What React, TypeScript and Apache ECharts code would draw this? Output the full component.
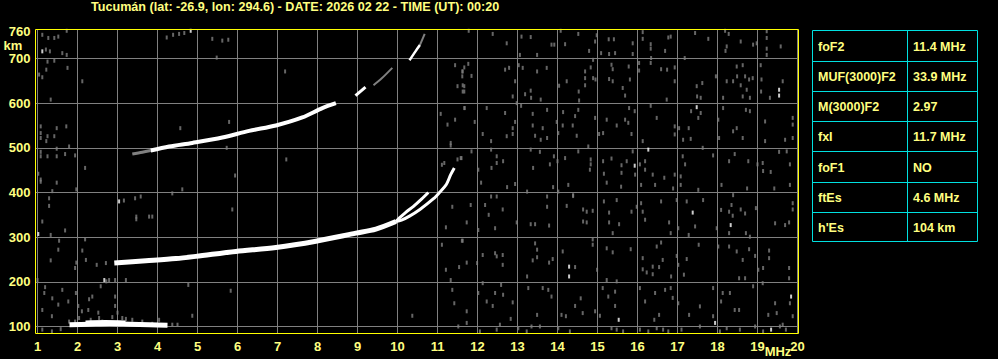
import React, { useEffect, useRef } from 'react';
import * as echarts from 'echarts';

const TITLE = 'Tucumán (lat: -26.9, lon: 294.6) - DATE: 2026 02 22 - TIME (UT): 00:20';
const xTicks = [1, 2, 3, 4, 5, 6, 7, 8, 9, 10, 11, 12, 13, 14, 15, 16, 17, 18, 19, 20];
const yTicks = [100, 200, 300, 400, 500, 600, 700];
const yLabels = [100, 200, 300, 400, 500, 600, 700, 760];
const paramNames = ['foF2', 'MUF(3000)F2', 'M(3000)F2', 'fxI', 'foF1', 'ftEs', "h'Es"];
const paramValues = ['11.4 MHz', '33.9 MHz', '2.97', '11.7 MHz', 'NO', '4.6 MHz', '104 km'];

// traces [MHz, km]
const esTrace = [[1.8, 104], [2.3, 105], [2.8, 106], [3.3, 105], [3.8, 104], [4.25, 103]];
const esUpper = [[2.2, 110], [2.7, 111], [3.2, 110]];
const f2Low = [[2.92, 242], [3.71, 247], [4.46, 252], [4.96, 257], [5.96, 268], [6.96, 277], [7.96, 291], [8.96, 309], [9.46, 318], [9.96, 335]];
const f2Ordinary = [[9.96, 335], [10.05, 343], [10.2, 355], [10.4, 369], [10.6, 385], [10.77, 400]];
const f2Extra = [[9.96, 335], [10.1, 338], [10.3, 347], [10.56, 362], [10.9, 386], [11.06, 401], [11.22, 418], [11.33, 440], [11.42, 455]];
const f2Multi = [[3.83, 494], [4.29, 503], [4.87, 511], [5.62, 523], [6.29, 538], [6.96, 550], [7.62, 568], [8.12, 589], [8.46, 600]];
const f2MultiB = [[8.95, 617], [9.2, 636]];
const f2MultiTop = [[10.3, 696], [10.45, 716], [10.56, 730]];
const f2MultiFaint = [[3.37, 486], [3.62, 490], [3.83, 494]];
const f2MultiFaintB = [[9.4, 640], [9.6, 655], [9.87, 679]];
const f2MultiFaintTop = [[10.56, 730], [10.68, 755]];

const whiteDots = [[19.54, 630], [19.54, 617], [17.48, 591], [16.27, 496], [15.93, 460], [17.38, 355], [18.33, 327], [14.29, 234], [14.29, 212], [15.53, 115], [17.94, 108], [19.84, 167], [19.34, 93], [4.83, 762], [1.12, 716], [3.04, 380], [1.02, 307], [2.67, 204]];

const noiseHighTop = [
  [11.78, 762], [12.38, 755], [12.73, 734], [13.1, 749], [13.33, 748], [13.06, 708], [13.49, 708], [13.85, 731], [13.92, 731], [14.19, 732], [14.08, 762], [14.52, 755], [14.98, 752], [14.94, 738], [14.79, 717], [15.09, 712], [15.29, 710], [15.44, 712], [15.41, 743], [15.28, 743], [15.88, 734], [15.88, 710], [16.13, 759], [16.13, 744], [16.33, 732], [16.33, 722], [16.69, 717], [16.77, 747], [16.83, 749], [16.34, 701], [17.18, 701], [17.44, 757], [17.77, 744], [18.19, 762], [18.28, 755], [18.23, 727], [18.2, 717], [18.58, 738], [18.89, 731], [18.98, 734], [19.23, 761], [19.23, 746], [19.23, 722], [19.58, 727], [19.23, 708],
  [11.67, 680], [11.63, 671], [11.77, 688], [11.85, 661], [11.63, 626], [11.63, 640], [12.69, 675], [12.79, 679], [13.03, 685], [13.13, 679], [13.49, 671], [13.73, 679], [12.94, 649], [12.88, 615], [12.98, 600], [13.19, 620], [13.33, 628], [13.34, 612], [13.58, 608], [14.04, 639], [14.23, 649], [14.53, 626], [14.54, 606], [14.69, 671], [14.69, 656], [14.69, 640], [14.83, 680], [14.89, 656], [14.95, 653], [14.89, 697], [15.35, 686], [15.38, 676], [15.29, 654], [15.38, 649], [15.63, 634], [15.69, 617], [15.78, 682], [15.81, 653], [16.04, 690], [16.04, 673], [16.33, 690], [16.59, 676], [16.74, 675], [16.93, 680], [16.93, 649], [16.73, 608], [17.48, 638], [17.49, 615], [17.58, 612], [17.62, 645], [17.96, 660], [18.14, 612], [18.23, 649], [18.39, 649], [18.48, 682], [18.63, 685], [18.49, 660], [18.58, 640], [18.63, 615], [18.73, 630], [18.69, 660], [18.79, 653], [18.88, 656], [18.81, 612], [19.08, 685], [19.1, 653], [19.09, 626], [19.31, 612], [19.63, 649],
  [11.68, 589], [11.93, 558], [12.13, 531], [12.23, 589], [12.34, 515], [12.69, 578], [12.73, 526], [12.88, 544], [12.88, 531], [12.94, 558], [13.09, 594], [13.38, 576], [13.38, 550], [13.44, 527], [13.63, 544], [13.58, 518], [13.74, 585], [13.74, 522], [13.98, 558], [14.02, 533], [14.14, 580], [14.13, 550], [14.38, 550], [14.52, 585], [14.44, 571], [14.48, 527], [14.94, 567], [15.04, 531], [15.14, 533], [15.23, 563], [15.48, 550], [15.69, 563], [15.79, 589], [15.77, 556], [15.85, 531], [15.93, 582], [16.13, 515], [16.33, 594], [16.48, 567], [16.93, 548], [17.04, 544], [16.93, 530], [17.14, 518], [17.28, 544], [17.34, 582], [17.52, 567], [17.33, 520], [17.58, 578], [18.02, 563], [18.04, 522], [18.14, 589], [18.39, 537], [18.48, 544], [18.63, 522], [18.71, 585], [18.81, 582], [19.19, 559], [19.19, 515], [19.69, 518], [19.88, 567], [19.88, 552], [19.88, 522],
  [11.6, 477], [11.85, 492], [12.34, 496], [12.48, 481], [12.48, 466], [12.35, 455], [12.02, 451], [12.64, 470], [13.33, 496], [13.39, 455], [13.56, 491], [13.81, 463], [13.91, 481], [14.0, 470], [14.19, 477], [14.52, 492], [14.77, 503], [14.83, 474], [14.83, 463], [14.81, 451], [15.14, 470], [15.16, 442], [15.35, 476], [15.6, 461], [15.6, 444], [15.73, 470], [15.88, 492], [15.94, 440], [16.06, 463], [16.19, 470], [16.19, 451], [16.38, 440], [16.67, 433], [16.93, 440], [17.13, 481], [17.19, 463], [17.08, 436], [17.63, 500], [17.89, 483], [18.29, 470], [18.43, 486], [18.77, 470], [19.0, 463], [19.13, 466], [19.14, 448], [19.33, 446], [19.54, 491], [19.73, 492], [19.81, 463]
];

const noiseHighBottom = [
  [12.09, 422], [12.74, 412], [12.94, 419], [13.24, 402], [13.89, 412], [14.02, 402], [14.27, 417], [14.39, 392], [15.23, 422], [15.59, 413], [16.09, 417], [16.44, 417], [16.89, 409], [17.08, 417], [17.52, 406], [18.1, 417], [18.74, 409], [19.42, 409], [19.81, 417],
  [11.83, 372], [12.19, 372], [12.34, 391], [12.48, 391], [12.28, 350], [12.63, 362], [11.73, 333], [12.02, 316], [12.44, 320], [12.98, 333], [13.33, 329], [13.44, 329], [13.74, 391], [13.74, 368], [13.79, 326], [14.23, 370], [14.39, 394], [14.64, 362], [14.73, 357], [14.88, 359], [14.64, 335], [14.73, 333], [15.16, 380], [15.29, 355], [15.29, 333], [15.38, 309], [15.48, 383], [15.54, 329], [15.85, 357], [15.98, 368], [16.09, 376], [16.13, 357], [16.19, 339], [16.59, 380], [16.79, 333], [16.83, 309], [16.98, 383], [17.02, 320], [17.23, 380], [17.28, 305], [17.44, 324], [17.64, 383], [17.98, 320], [18.09, 361], [18.29, 357], [18.35, 372], [18.39, 394], [18.38, 348], [18.58, 362], [18.69, 353], [18.29, 309], [18.71, 309], [18.81, 301], [18.96, 365], [19.44, 331], [19.69, 327], [19.79, 333], [19.88, 376], [19.88, 362],
  [11.63, 292], [11.73, 243], [11.99, 242], [12.13, 260], [12.44, 264], [12.48, 257], [12.63, 260], [12.63, 238], [13.24, 212], [13.38, 248], [13.44, 286], [13.49, 272], [13.49, 255], [13.79, 243], [13.88, 251], [14.13, 268], [14.44, 233], [14.88, 295], [14.88, 283], [14.99, 227], [15.23, 275], [15.23, 204], [15.38, 266], [15.48, 201], [15.83, 273], [16.13, 253], [16.13, 228], [16.23, 221], [16.38, 234], [16.38, 217], [16.54, 233], [16.48, 279], [16.59, 288], [16.63, 249], [16.84, 212], [16.98, 258], [17.02, 238], [17.23, 251], [17.16, 216], [17.53, 283], [18.02, 279], [18.29, 279], [18.48, 268], [18.54, 208], [18.63, 249], [18.69, 208], [18.79, 273], [18.94, 258], [19.02, 227], [19.14, 231], [19.29, 270], [19.29, 253], [19.79, 231], [19.79, 208],
  [11.73, 134], [11.73, 108], [12.02, 175], [12.13, 197], [12.23, 156], [12.38, 146], [12.44, 175], [12.59, 193], [12.64, 171], [12.88, 154], [12.83, 117], [12.56, 104], [13.27, 186], [13.49, 126], [13.63, 186], [13.77, 182], [13.85, 167], [14.1, 126], [14.21, 123], [14.44, 146], [14.58, 163], [14.63, 130], [14.94, 134], [15.06, 124], [15.13, 186], [15.27, 167], [15.44, 178], [15.44, 146], [16.06, 186], [16.19, 156], [16.44, 175], [16.42, 115], [16.54, 126], [16.69, 182], [16.83, 186], [16.88, 164], [17.02, 152], [17.29, 126], [17.56, 145], [17.89, 186], [17.89, 123], [18.13, 175], [18.09, 156], [18.31, 175], [18.43, 137], [18.54, 137], [18.89, 190], [19.13, 197], [19.27, 126], [19.44, 152], [19.48, 130], [19.81, 152], [19.88, 123], [19.63, 104],
  [12.06, 89], [12.48, 93], [13.02, 96], [13.23, 89], [13.35, 100], [13.56, 100], [14.02, 96], [14.31, 89], [15.35, 96], [15.48, 93], [15.64, 89], [16.06, 93], [16.27, 89], [16.48, 96], [16.64, 93], [16.77, 89], [17.1, 93], [17.56, 100], [18.06, 89], [18.23, 96], [18.56, 93], [18.94, 100], [19.14, 89], [19.56, 100], [19.71, 93]
];

const noiseLowFreq = [
  [1.12, 753], [1.27, 746], [1.42, 746], [1.52, 749], [1.73, 762], [1.21, 720], [1.31, 716], [1.62, 712], [1.73, 708], [1.25, 693], [1.42, 695], [1.75, 679], [1.22, 675], [1.04, 664], [1.12, 658], [2.12, 649], [1.33, 608], [4.23, 747], [4.39, 753], [4.54, 755], [4.67, 757], [5.37, 744], [5.62, 740], [5.77, 742], [5.48, 702], [7.19, 671],
  [11.08, 576], [11.25, 552], [11.44, 563], [11.44, 685], [11.62, 671], [11.62, 660], [11.67, 638], [11.5, 638], [11.67, 626], [11.67, 589],
  [1.08, 548], [1.08, 533], [1.08, 522], [1.48, 544], [1.72, 548], [1.25, 526], [1.42, 526], [1.22, 515], [1.08, 491], [1.08, 481], [1.25, 481], [1.48, 498], [1.48, 481], [1.69, 486], [1.79, 503], [1.94, 483], [1.02, 442], [1.08, 429], [1.48, 422], [2.19, 455], [4.57, 544], [5.79, 558], [5.73, 500], [5.94, 438], [7.22, 474],
  [11.33, 511], [11.33, 505], [11.5, 474], [11.58, 477], [11.11, 462], [11.17, 466],
  [1.08, 424], [1.37, 403], [1.97, 407], [1.29, 387], [1.29, 370], [1.12, 335], [1.33, 305], [1.69, 315], [1.54, 292], [1.52, 272], [1.33, 248], [1.97, 243], [1.94, 231], [2.19, 295], [2.12, 270], [2.21, 249], [3.16, 382], [3.44, 387], [3.58, 391], [3.47, 346], [3.47, 340], [3.79, 346], [3.87, 346], [4.37, 398], [4.62, 407], [5.87, 362], [2.48, 238], [2.71, 242],
  [1.0, 204], [1.19, 188], [1.17, 175], [1.37, 163], [1.12, 137], [1.36, 123], [1.52, 149], [1.62, 182], [1.77, 156], [1.96, 175], [2.02, 146], [1.94, 111], [2.11, 134], [2.29, 161], [2.27, 137], [2.37, 167], [2.58, 190], [2.52, 131], [2.72, 201], [2.79, 204], [2.94, 204], [3.21, 204], [2.94, 167], [2.94, 146], [3.0, 131], [3.21, 117], [4.77, 193], [4.87, 124], [5.83, 180], [10.37, 124],
  [11.21, 227], [11.33, 204], [11.37, 182], [11.42, 152], [11.54, 233], [11.61, 292], [11.52, 100], [11.21, 322], [11.11, 283], [11.37, 368],
  [1.79, 111], [2.04, 119], [2.33, 115], [2.54, 119], [2.62, 111], [2.87, 121], [3.12, 119], [3.37, 115], [3.62, 111], [3.87, 106], [4.04, 115], [4.37, 104], [4.5, 104], [1.12, 93], [1.36, 89], [1.58, 94]
];

const YELLOW = '#ffff00';
const TEXT_YELLOW = '#ffff80';
const GRAY = '#808080';
const CYAN = '#00e0e0';
const FONT = '"Liberation Sans", Arial, sans-serif';

const tableRows = [30, 61, 91, 121, 151, 182, 212, 241];

function lineSeries(data: number[][], color: string, width: number, smooth = 0.3) {
  return {
    type: 'line', data, symbol: 'none', smooth, silent: true, z: 5,
    lineStyle: { color, width, cap: 'butt' },
  };
}

export default function App() {
  const ref = useRef<HTMLDivElement>(null);
  useEffect(() => {
    if (!ref.current) return;
    const chart = echarts.init(ref.current, null, { renderer: 'svg' });

    const graphics: any[] = [];
    graphics.push({
      type: 'text', x: 91, y: 6.5, silent: true,
      style: { text: TITLE, fill: TEXT_YELLOW, fontSize: 12.6, fontWeight: 'bold', fontFamily: FONT, align: 'left', verticalAlign: 'middle' },
    });
    graphics.push({
      type: 'text', x: 13, y: 45, silent: true,
      style: { text: 'km', fill: TEXT_YELLOW, fontSize: 13, fontWeight: 'bold', fontFamily: FONT, align: 'center', verticalAlign: 'middle' },
    });
    graphics.push({
      type: 'text', x: 778, y: 351, silent: true,
      style: { text: 'MHz', fill: TEXT_YELLOW, fontSize: 13, fontWeight: 'bold', fontFamily: FONT, align: 'center', verticalAlign: 'middle' },
    });
    graphics.push({
      type: 'rect', silent: true, z: 100,
      shape: { x: 35.5, y: 29.5, width: 763, height: 304 },
      style: { fill: 'none', stroke: YELLOW, lineWidth: 1 },
    });
    // table
    const tx0 = 812.5, tx1 = 977.5, tmid = 907.5;
    graphics.push({
      type: 'rect', silent: true,
      shape: { x: tx0, y: tableRows[0] + 0.5, width: tx1 - tx0, height: tableRows[tableRows.length - 1] - tableRows[0] },
      style: { fill: 'none', stroke: CYAN, lineWidth: 1 },
    });
    graphics.push({
      type: 'line', silent: true,
      shape: { x1: tmid, y1: tableRows[0] + 0.5, x2: tmid, y2: tableRows[tableRows.length - 1] + 0.5 },
      style: { stroke: CYAN, lineWidth: 1 },
    });
    for (let i = 1; i < tableRows.length - 1; i++) {
      graphics.push({
        type: 'line', silent: true,
        shape: { x1: tx0, y1: tableRows[i] + 0.5, x2: tx1, y2: tableRows[i] + 0.5 },
        style: { stroke: CYAN, lineWidth: 1 },
      });
    }
    paramNames.forEach((name, i) => {
      const cy = (tableRows[i] + tableRows[i + 1]) / 2 + 1;
      graphics.push({
        type: 'text', x: 818, y: cy, silent: true,
        style: { text: name, fill: TEXT_YELLOW, fontSize: 12.5, fontWeight: 'bold', fontFamily: FONT, align: 'left', verticalAlign: 'middle' },
      });
      graphics.push({
        type: 'text', x: 913, y: cy, silent: true,
        style: { text: paramValues[i], fill: TEXT_YELLOW, fontSize: 12.5, fontWeight: 'bold', fontFamily: FONT, align: 'left', verticalAlign: 'middle' },
      });
    });

    const noiseStyle = (data: number[][], color: string) => ({
      type: 'scatter', data, symbol: 'rect', symbolSize: [2, 4], silent: true, z: 3,
      itemStyle: { color },
    });

    chart.setOption({
      animation: false,
      backgroundColor: '#000000',
      grid: { left: 35.5, top: 29.5, width: 763, height: 304, containLabel: false },
      xAxis: {
        type: 'value', min: 0.95, max: 20.025,
        axisLine: { show: false },
        axisTick: { show: false, customValues: xTicks },
        axisLabel: { customValues: xTicks, color: TEXT_YELLOW, fontSize: 13, fontWeight: 'bold', fontFamily: FONT, margin: 6 },
        splitLine: { show: true, lineStyle: { color: GRAY, width: 1 } },
      },
      yAxis: {
        type: 'value', min: 84.3, max: 764.9,
        axisLine: { show: false },
        axisTick: { show: false, customValues: yTicks },
        axisLabel: { customValues: yLabels, color: TEXT_YELLOW, fontSize: 13, fontWeight: 'bold', fontFamily: FONT, margin: 5 },
        splitLine: { show: true, lineStyle: { color: GRAY, width: 1 } },
      },
      series: [
        noiseStyle(noiseHighTop, GRAY),
        noiseStyle(noiseHighBottom, GRAY),
        noiseStyle(noiseLowFreq, GRAY),
        noiseStyle(whiteDots, '#ffffff'),
        lineSeries(f2MultiFaint, GRAY, 3),
        lineSeries(f2MultiFaintB, GRAY, 2),
        lineSeries(f2MultiFaintTop, GRAY, 2),
        lineSeries(esTrace, '#ffffff', 5),
        lineSeries(esUpper, '#ffffff', 3),
        lineSeries(f2Low, '#ffffff', 5),
        lineSeries(f2Ordinary, '#ffffff', 3),
        lineSeries(f2Extra, '#ffffff', 3),
        lineSeries(f2Multi, '#ffffff', 4),
        lineSeries(f2MultiB, '#ffffff', 3),
        lineSeries(f2MultiTop, '#ffffff', 2.5),
      ],
      graphic: graphics,
    });
    return () => chart.dispose();
  }, []);

  return (
    <div
      ref={ref}
      style={{ position: 'fixed', left: 0, top: 0, width: 998, height: 359, background: '#000' }}
    />
  );
}
